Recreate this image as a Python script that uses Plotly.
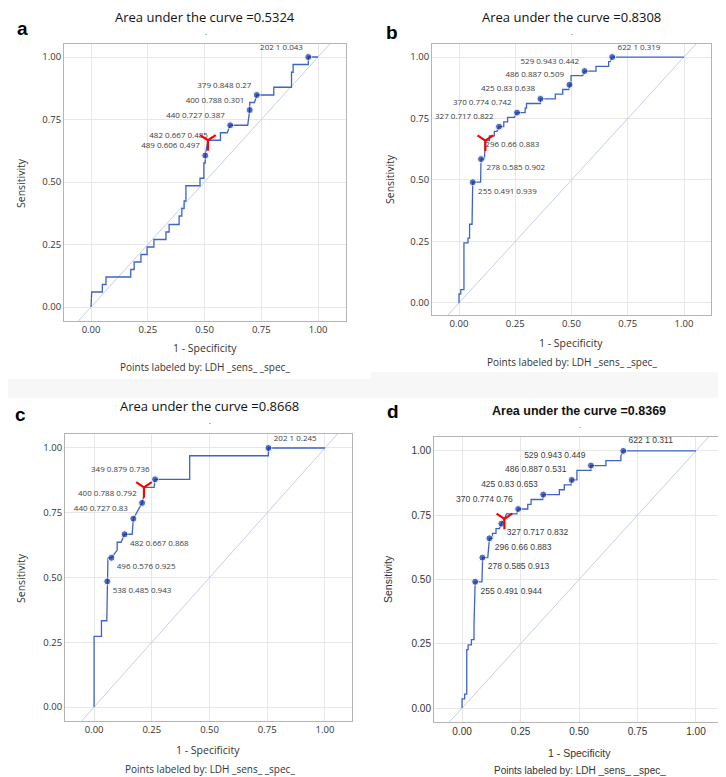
import plotly.graph_objects as go

W, H = 726, 777

# ---------------- data ----------------
AUC = ["0.5324", "0.8308", "0.8668", "0.8369"]
TICKS = [0, 0.25, 0.5, 0.75, 1.0]

# panel a
a_fpr = [0, 0, 0.003, 0.003, 0.05, 0.05, 0.066, 0.066, 0.175, 0.175, 0.19, 0.19, 0.22, 0.22,
         0.247, 0.247, 0.277, 0.277, 0.33, 0.33, 0.344, 0.344, 0.388, 0.388, 0.40, 0.40, 0.41,
         0.41, 0.418, 0.418, 0.48, 0.48, 0.497, 0.497, 0.503, 0.503, 0.515, 0.57, 0.57, 0.60,
         0.613, 0.69, 0.699, 0.699, 0.72, 0.73, 0.805, 0.805, 0.883, 0.883, 0.89, 0.89, 0.957,
         0.957, 1.0]
a_tpr = [0, 0.03, 0.03, 0.06, 0.06, 0.09, 0.09, 0.12, 0.12, 0.15, 0.15, 0.18, 0.18, 0.21,
         0.21, 0.24, 0.24, 0.27, 0.27, 0.30, 0.30, 0.33, 0.33, 0.364, 0.364, 0.394, 0.394,
         0.424, 0.424, 0.485, 0.485, 0.515, 0.515, 0.576, 0.576, 0.606, 0.667, 0.667, 0.697,
         0.697, 0.727, 0.727, 0.788, 0.818, 0.818, 0.848, 0.848, 0.879, 0.879, 0.939, 0.939,
         0.97, 0.97, 1.0, 1.0]
a_ldh = [202, 379, 400, 440, 482, 489]
a_sens = [1, 0.848, 0.788, 0.727, 0.667, 0.606]
a_spec = [0.043, 0.27, 0.301, 0.387, 0.485, 0.497]
a_opt = [0.515, 0.667]

# panel b
b_fpr = [0, 0, 0.008, 0.008, 0.022, 0.022, 0.04, 0.04, 0.047, 0.047, 0.058, 0.058, 0.061,
         0.096, 0.098, 0.113, 0.117, 0.135, 0.135, 0.157, 0.157, 0.169, 0.178, 0.199, 0.199,
         0.216, 0.216, 0.246, 0.258, 0.294, 0.294, 0.30, 0.30, 0.362, 0.362, 0.428, 0.428,
         0.461, 0.461, 0.488, 0.491, 0.498, 0.498, 0.55, 0.558, 0.609, 0.609, 0.665, 0.665,
         0.672, 0.681, 1.0]
b_tpr = [0, 0.037, 0.037, 0.054, 0.054, 0.244, 0.244, 0.264, 0.264, 0.32, 0.32, 0.47, 0.491,
         0.491, 0.585, 0.585, 0.66, 0.66, 0.679, 0.679, 0.698, 0.698, 0.717, 0.717, 0.736,
         0.736, 0.755, 0.755, 0.774, 0.774, 0.792, 0.792, 0.811, 0.811, 0.83, 0.83, 0.849,
         0.849, 0.868, 0.868, 0.887, 0.887, 0.924, 0.924, 0.943, 0.943, 0.962, 0.962, 0.981,
         0.981, 1.0, 1.0]
b_ldh = [622, 529, 486, 425, 370, 327, 296, 278, 255]
b_sens = [1, 0.943, 0.887, 0.83, 0.774, 0.717, 0.66, 0.585, 0.491]
b_spec = [0.319, 0.442, 0.509, 0.638, 0.742, 0.822, 0.883, 0.902, 0.939]
b_opt = [0.117, 0.66]

# panel c
c_fpr = [0, 0, 0.032, 0.032, 0.055, 0.057, 0.06, 0.075, 0.095, 0.10, 0.10, 0.117, 0.132,
         0.165, 0.17, 0.19, 0.208, 0.216, 0.216, 0.26, 0.264, 0.414, 0.414, 0.755, 0.755, 1.0]
c_tpr = [0, 0.273, 0.273, 0.333, 0.333, 0.485, 0.576, 0.576, 0.60, 0.606, 0.636, 0.636,
         0.667, 0.667, 0.727, 0.758, 0.788, 0.818, 0.848, 0.848, 0.879, 0.879, 0.97, 0.97,
         1.0, 1.0]
c_ldh = [202, 349, 400, 440, 482, 496, 538]
c_sens = [1, 0.879, 0.788, 0.727, 0.667, 0.576, 0.485]
c_spec = [0.245, 0.736, 0.792, 0.83, 0.868, 0.925, 0.943]
c_opt = [0.216, 0.848]

# panel d
d_fpr = [0, 0, 0.011, 0.011, 0.02, 0.02, 0.026, 0.026, 0.04, 0.04, 0.051, 0.051, 0.056,
         0.085, 0.088, 0.11, 0.117, 0.13, 0.13, 0.145, 0.145, 0.16, 0.168, 0.181, 0.19, 0.234,
         0.24, 0.281, 0.281, 0.295, 0.295, 0.345, 0.347, 0.416, 0.416, 0.437, 0.437, 0.466,
         0.469, 0.491, 0.491, 0.551, 0.551, 0.615, 0.615, 0.679, 0.679, 0.689, 1.0]
d_tpr = [0, 0.036, 0.036, 0.054, 0.054, 0.227, 0.227, 0.246, 0.246, 0.266, 0.266, 0.324,
         0.491, 0.491, 0.585, 0.585, 0.66, 0.66, 0.679, 0.679, 0.698, 0.698, 0.717, 0.736,
         0.755, 0.755, 0.774, 0.774, 0.792, 0.792, 0.811, 0.811, 0.83, 0.83, 0.849, 0.849,
         0.868, 0.868, 0.887, 0.887, 0.924, 0.924, 0.943, 0.943, 0.962, 0.962, 0.981, 1.0, 1.0]
d_ldh = [622, 529, 486, 425, 370, 327, 296, 278, 255]
d_sens = [1, 0.943, 0.887, 0.83, 0.774, 0.717, 0.66, 0.585, 0.491]
d_spec = [0.311, 0.449, 0.531, 0.653, 0.76, 0.832, 0.883, 0.913, 0.944]
d_opt = [0.181, 0.736]

# ---------------- layout (pixel boxes) ----------------
TL, TR, BR = "top left", "top right", "bottom right"
PANELS = [
    dict(letter="a", auc=AUC[0], fpr=a_fpr, tpr=a_tpr, ldh=a_ldh, sens=a_sens, spec=a_spec, opt=a_opt,
         tpos=[TL] * 6, box=(56, 36, 338, 313), xr=(-0.119, 1.123), yr=(-0.056, 1.052),
         font="Open Sans", bold=False, title=(197, 9), dot=(198, 18), lab=(14, 20),
         xt=(197, 340), pl=(197, 359), yt=(13, 175), lsz=8, tsz=9.5, ttsz=13),
    dict(letter="b", auc=AUC[1], fpr=b_fpr, tpr=b_tpr, ldh=b_ldh, sens=b_sens, spec=b_spec, opt=b_opt,
         tpos=[TR, TL, TL, TL, TL, TL, BR, BR, BR], box=(424, 36, 703, 307),
         xr=(-0.12, 1.12), yr=(-0.049, 1.053),
         font="Open Sans", bold=False, title=(563, 9), dot=(564, 18), lab=(384, 25),
         xt=(563, 335), pl=(564, 354), yt=(382, 171), lsz=8, tsz=9.5, ttsz=13),
    dict(letter="c", auc=AUC[2], fpr=c_fpr, tpr=c_tpr, ldh=c_ldh, sens=c_sens, spec=c_spec, opt=c_opt,
         tpos=[TR, TL, TL, TL, BR, BR, BR], box=(57, 426, 344, 713),
         xr=(-0.126, 1.117), yr=(-0.054, 1.054),
         font="Open Sans", bold=False, title=(202, 398), dot=(202, 407), lab=(12, 406),
         xt=(200, 742), pl=(202, 761), yt=(13, 570), lsz=8, tsz=9.5, ttsz=13),
    dict(letter="d", auc=AUC[3], fpr=d_fpr, tpr=d_tpr, ldh=d_ldh, sens=d_sens, spec=d_spec, opt=d_opt,
         tpos=[TR, TL, TL, TL, TL, BR, BR, BR, BR], box=(426, 429, 717, 714),
         xr=(-0.12, 1.124), yr=(-0.054, 1.054),
         font="Liberation Sans", bold=True, title=(571, 403), dot=(572, 412), lab=(385, 403),
         xt=(571, 745), pl=(572, 762), yt=(380, 571), lsz=8.5, tsz=10, ttsz=12.5),
]

CURVE = "#3d64c6"
DIAG = "#c4cfeb"
DOT = "#0b2f9e"
GRID = "#e7e7e7"
FRAME = "#b4b4b4"
TXT = "#333333"


def px(x):
    return x / W


def py(y):
    return 1 - y / H


fig = go.Figure()
annotations = []
layout = {}

for i, p in enumerate(PANELS):
    n = "" if i == 0 else str(i + 1)
    xa, ya = "x" + n, "y" + n
    fam = p["font"]

    # diagonal reference
    fig.add_trace(go.Scatter(x=[-0.3, 1.3], y=[-0.3, 1.3], mode="lines", xaxis=xa, yaxis=ya,
                             line=dict(color=DIAG, width=1), hoverinfo="skip", showlegend=False))
    # ROC curve
    fig.add_trace(go.Scatter(x=p["fpr"], y=p["tpr"], mode="lines", xaxis=xa, yaxis=ya,
                             line=dict(color=CURVE, width=1.3), showlegend=False))
    # labelled points
    px_pts = [round(1 - s, 3) for s in p["spec"]]
    labels = [f"{l} {se:g} {sp:g}" for l, se, sp in zip(p["ldh"], p["sens"], p["spec"])]
    sizes = [0 if (abs(x - p["opt"][0]) < 1e-6 and abs(y - p["opt"][1]) < 1e-6) else 7
             for x, y in zip(px_pts, p["sens"])]
    fig.add_trace(go.Scatter(x=px_pts, y=p["sens"], mode="markers+text", xaxis=xa, yaxis=ya,
                             marker=dict(color=DOT, size=sizes), text=labels,
                             textposition=p["tpos"],
                             textfont=dict(family=fam, size=p["lsz"], color="#3c3c3c"),
                             cliponaxis=False, showlegend=False))
    # optimal cut-off marker
    fig.add_trace(go.Scatter(x=[p["opt"][0]], y=[p["opt"][1]], mode="markers", xaxis=xa, yaxis=ya,
                             marker=dict(symbol="y-down", size=13, color="red",
                                         line=dict(color="red", width=2.2)),
                             cliponaxis=False, showlegend=False))

    x0, y0, x1, y1 = p["box"]
    common = dict(showgrid=True, gridcolor=GRID, gridwidth=1, zeroline=False, showline=True,
                  linecolor=FRAME, linewidth=1, mirror=True, ticks="",
                  tickvals=TICKS, tickformat=".2f",
                  tickfont=dict(family=fam, size=p["tsz"], color=TXT))
    layout["xaxis" + n] = dict(common, domain=[px(x0), px(x1)], range=list(p["xr"]), anchor=ya)
    layout["yaxis" + n] = dict(common, domain=[py(y1), py(y0)], range=list(p["yr"]), anchor=xa)

    ttl = f"Area under the curve ={p['auc']}"
    if p["bold"]:
        ttl = f"<b>{ttl}</b>"
    annotations += [
        dict(text=ttl, x=px(p["title"][0]), y=py(p["title"][1]), xref="paper", yref="paper",
             xanchor="center", yanchor="middle", showarrow=False,
             font=dict(family=fam, size=p["ttsz"], color="#111111")),
        dict(text=".", x=px(p["dot"][0]), y=py(p["dot"][1]), xref="paper", yref="paper",
             xanchor="center", yanchor="top", showarrow=False,
             font=dict(family=fam, size=7, color="#111111")),
        dict(text=f"<b>{p['letter']}</b>", x=px(p["lab"][0]), y=py(p["lab"][1]), xref="paper",
             yref="paper", xanchor="center", yanchor="middle", showarrow=False,
             font=dict(family="Liberation Sans", size=19, color="#000000")),
        dict(text="1 - Specificity", x=px(p["xt"][0]), y=py(p["xt"][1]), xref="paper",
             yref="paper", xanchor="center", yanchor="middle", showarrow=False,
             font=dict(family=fam, size=10.5, color=TXT)),
        dict(text="Points labeled by: LDH _sens_ _spec_", x=px(p["pl"][0]), y=py(p["pl"][1]),
             xref="paper", yref="paper", xanchor="center", yanchor="middle", showarrow=False,
             font=dict(family=fam, size=10, color=TXT)),
        dict(text="Sensitivity", x=px(p["yt"][0]), y=py(p["yt"][1]), xref="paper", yref="paper",
             xanchor="center", yanchor="middle", textangle=-90, showarrow=False,
             font=dict(family=fam, size=10.5, color=TXT)),
    ]

shapes = [
    dict(type="rect", xref="paper", yref="paper", x0=0, x1=px(363), y0=py(390), y1=py(371),
         fillcolor="#f7f7f7", line=dict(width=0), layer="below"),
    dict(type="rect", xref="paper", yref="paper", x0=px(363), x1=1, y0=py(390), y1=py(364),
         fillcolor="#f7f7f7", line=dict(width=0), layer="below"),
]

fig.update_layout(width=W, height=H, margin=dict(l=0, r=0, t=0, b=0),
                  paper_bgcolor="white", plot_bgcolor="white", showlegend=False,
                  annotations=annotations, shapes=shapes, **layout)

fig.write_html("out.html")
